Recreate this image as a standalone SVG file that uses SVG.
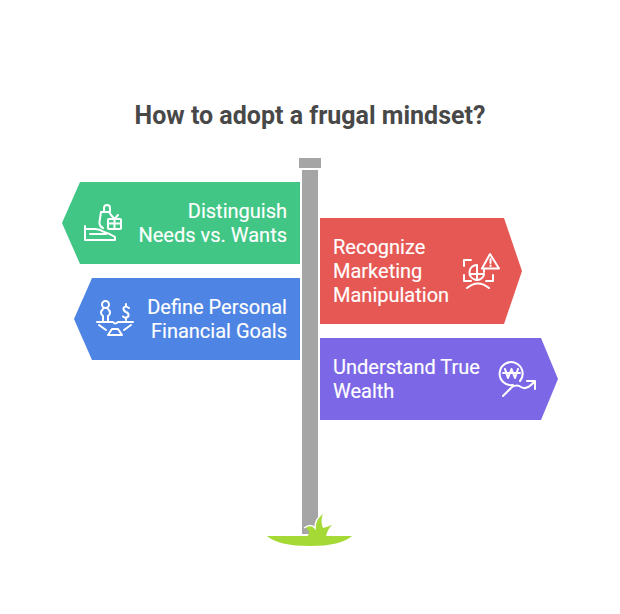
<svg xmlns="http://www.w3.org/2000/svg" width="620" height="614" viewBox="0 0 620 614">
<style>
.t{font-family:Roboto,"Liberation Sans",sans-serif;font-size:20px;fill:#fff;font-weight:400;stroke:#fff;stroke-width:.15}
.r{text-anchor:end}
.title{font-family:Roboto,"Liberation Sans",sans-serif;font-size:25px;font-weight:700;fill:#484848;text-anchor:middle}
.i{fill:none;stroke:#fff;stroke-width:2;stroke-linecap:round;stroke-linejoin:round}
.post{fill:#a5a5a5}
</style>
<rect width="620" height="614" fill="#fff"/>
<text id="title" class="title" x="310" y="124">How to adopt a frugal mindset?</text>
<g id="signpost">
<rect class="post" x="299" y="158" width="22" height="10"/>
<rect class="post" x="302" y="170" width="16" height="364"/>
</g>
<g id="grass">
<path d="M267 536H352Q341 546 310 546Q278 546 267 536Z" fill="#a5d936"/>
<path d="M307 537Q312 531 305 527.500Q311 524 315 528Q316 519 323 513.500Q320 522 323 528Q327 527 332 525Q327 530 326 537Z" fill="#a5d936"/>
<path d="M304 528Q311 523 315 528Q315 519 322 514" fill="none" stroke="#fff" stroke-width="1.5"/>
</g>
<g id="node-needs">
<path d="M80 182H300V264H80L62 223Z" fill="#41c685"/>
<text class="t r" x="287" y="218">Distinguish</text>
<text class="t r" x="287" y="242">Needs vs. Wants</text>
<g class="i">
<path d="M85 226V240H115V237Q111 234 104 232Q100 229 95 229H85M90 234H106"/>
<path d="M103 228Q99 226 99.500 222L101 212H109L111 215M104 212V208Q104 205 107 205Q110 205 110 208V212"/>
<rect x="108" y="219" width="13" height="10" rx="1"/><path d="M108 223.500H121M114.500 219V229M111 215L114.500 219L118 215"/>
</g>
</g>
<g id="node-goals">
<path d="M92 278H300V360H92L74 319Z" fill="#4e84e3"/>
<text class="t r" x="287" y="314">Define Personal</text>
<text class="t r" x="287" y="338">Financial Goals</text>
<g class="i">
<circle cx="105.500" cy="304.500" r="3.500"/>
<path d="M103 309Q99 313 103 316V321M108 309Q112 313 108 316V321"/>
<path d="M97 322H113Q115 325 118 322H133"/>
<path d="M99 325L106 330M131 325L124 330"/>
<path d="M108 335L112 329H118L122 335Z"/>
<path d="M129 308Q124 305 123.500 308.500Q123.500 311 126 312Q129 313 128.500 316Q126 319 123 316.500M126 304V306M126 318V320"/>
</g>
</g>
<g id="node-marketing">
<path d="M320 218H504L522 271L504 324H320Z" fill="#e65854"/>
<text class="t" x="333" y="254">Recognize</text>
<text class="t" x="333" y="278">Marketing</text>
<text class="t" x="333" y="302">Manipulation</text>
<g class="i">
<path d="M464 266V260H471M464 275V281H471M493 275V281H486"/>
<path d="M484 275A7.500 7.500 0 1 1 477 265V280M470 274H484M484 270V272"/>
<path d="M490 254L482 268.500H499Z"/>
<path d="M490.500 259V263M490.500 265.500V266"/>
<path d="M467 288Q478 279 489 288"/>
</g>
</g>
<g id="node-wealth">
<path d="M320 338H541L558 379L541 420H320Z" fill="#7c67e6"/>
<text class="t" x="333" y="374">Understand True</text>
<text class="t" x="333" y="398">Wealth</text>
<g class="i">
<path d="M520 381A11.500 11.500 0 1 0 513 385"/>
<path d="M505 369L508 378L511.500 369L515 378L518 369M503 373H520"/>
<path d="M503 396L512 387Q517 384 521 387Q526 390 531 385L535 381M527 381H535V389"/>
</g>
</g>
</svg>
